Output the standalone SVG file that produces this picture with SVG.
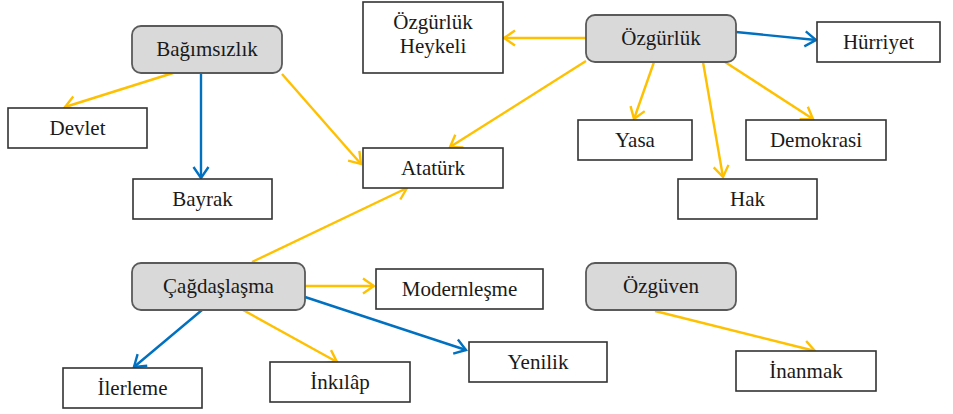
<svg xmlns="http://www.w3.org/2000/svg" width="953" height="414" viewBox="0 0 953 414">
<style>
.box{fill:#fff;stroke:#333;stroke-width:1.6}
.main{fill:#d9d9d9;stroke:#5a5a5a;stroke-width:1.8}
.t{font-family:'Liberation Serif','DejaVu Serif','Times New Roman',serif;font-size:21px;fill:#1a1a1a;text-anchor:middle}
.y{stroke:#FFC000;stroke-width:2.4;fill:none}
.b{stroke:#0070C0;stroke-width:2.4;fill:none}
</style>
<defs>
<marker id="ay" markerUnits="userSpaceOnUse" viewBox="-13 -9 15 18" refX="0" refY="0" markerWidth="15" markerHeight="18" orient="auto"><path d="M-11,-7.5 L0,0 L-11,7.5" fill="none" stroke="#FFC000" stroke-width="2.4"/></marker>
<marker id="ab" markerUnits="userSpaceOnUse" viewBox="-13 -9 15 18" refX="0" refY="0" markerWidth="15" markerHeight="18" orient="auto"><path d="M-11,-7.5 L0,0 L-11,7.5" fill="none" stroke="#0070C0" stroke-width="2.4"/></marker>
</defs>
<g id="connectors">
<line class="y" x1="173" y1="73" x2="65" y2="107" marker-end="url(#ay)"/>
<line class="y" x1="282" y1="74" x2="361" y2="164" marker-end="url(#ay)"/>
<line class="y" x1="586" y1="38" x2="504" y2="38" marker-end="url(#ay)"/>
<line class="y" x1="586" y1="61" x2="450" y2="147" marker-end="url(#ay)"/>
<line class="y" x1="654" y1="62" x2="634" y2="119" marker-end="url(#ay)"/>
<line class="y" x1="703" y1="62" x2="723" y2="177" marker-end="url(#ay)"/>
<line class="y" x1="725" y1="62" x2="813" y2="119" marker-end="url(#ay)"/>
<line class="y" x1="252" y1="262" x2="407" y2="188" marker-end="url(#ay)"/>
<line class="y" x1="305" y1="286" x2="374" y2="286" marker-end="url(#ay)"/>
<line class="y" x1="243" y1="310" x2="337" y2="362" marker-end="url(#ay)"/>
<line class="y" x1="655" y1="311" x2="815" y2="351" marker-end="url(#ay)"/>
<line class="b" x1="201" y1="73" x2="201" y2="178" marker-end="url(#ab)"/>
<line class="b" x1="736" y1="32" x2="816" y2="40" marker-end="url(#ab)"/>
<line class="b" x1="202" y1="310" x2="134" y2="367" marker-end="url(#ab)"/>
<line class="b" x1="305" y1="297" x2="466" y2="350" marker-end="url(#ab)"/>
</g>
<g id="bagimsizlik"><rect class="main" x="132" y="26" width="150" height="47" rx="9"/><text class="t" font-family="Liberation Serif, DejaVu Serif, serif" x="207" y="56">Bağımsızlık</text></g>
<g id="devlet"><rect class="box" x="8" y="108" width="139" height="40"/><text class="t" font-family="Liberation Serif, DejaVu Serif, serif" x="77.5" y="135">Devlet</text></g>
<g id="bayrak"><rect class="box" x="133" y="179" width="139" height="40"/><text class="t" font-family="Liberation Serif, DejaVu Serif, serif" x="202.5" y="206">Bayrak</text></g>
<g id="heykeli"><rect class="box" x="363" y="2" width="140" height="71"/><text class="t" font-family="Liberation Serif, DejaVu Serif, serif" x="433" y="29">Özgürlük</text><text class="t" font-family="Liberation Serif, DejaVu Serif, serif" x="433" y="53">Heykeli</text></g>
<g id="ataturk"><rect class="box" x="363" y="148" width="140" height="40"/><text class="t" font-family="Liberation Serif, DejaVu Serif, serif" x="433" y="175">Atatürk</text></g>
<g id="ozgurluk"><rect class="main" x="586" y="15" width="150" height="47" rx="9"/><text class="t" font-family="Liberation Serif, DejaVu Serif, serif" x="661" y="45">Özgürlük</text></g>
<g id="hurriyet"><rect class="box" x="817" y="22" width="123" height="40"/><text class="t" font-family="Liberation Serif, DejaVu Serif, serif" x="878.5" y="49">Hürriyet</text></g>
<g id="yasa"><rect class="box" x="578" y="120" width="114" height="40"/><text class="t" font-family="Liberation Serif, DejaVu Serif, serif" x="635" y="147">Yasa</text></g>
<g id="demokrasi"><rect class="box" x="746" y="120" width="140" height="40"/><text class="t" font-family="Liberation Serif, DejaVu Serif, serif" x="816" y="147">Demokrasi</text></g>
<g id="hak"><rect class="box" x="678" y="179" width="139" height="40"/><text class="t" font-family="Liberation Serif, DejaVu Serif, serif" x="747.5" y="206">Hak</text></g>
<g id="cagdaslasma"><rect class="main" x="132" y="263" width="173" height="47" rx="9"/><text class="t" font-family="Liberation Serif, DejaVu Serif, serif" x="218.5" y="293">Çağdaşlaşma</text></g>
<g id="modernlesme"><rect class="box" x="376" y="269" width="167" height="40"/><text class="t" font-family="Liberation Serif, DejaVu Serif, serif" x="459.5" y="296">Modernleşme</text></g>
<g id="ozguven"><rect class="main" x="586" y="263" width="150" height="47" rx="9"/><text class="t" font-family="Liberation Serif, DejaVu Serif, serif" x="661" y="293">Özgüven</text></g>
<g id="yenilik"><rect class="box" x="469" y="342" width="138" height="40"/><text class="t" font-family="Liberation Serif, DejaVu Serif, serif" x="538" y="369">Yenilik</text></g>
<g id="ilerleme"><rect class="box" x="63" y="368" width="139" height="40"/><text class="t" font-family="Liberation Serif, DejaVu Serif, serif" x="132.5" y="395">İlerleme</text></g>
<g id="inkilap"><rect class="box" x="270" y="362" width="140" height="40"/><text class="t" font-family="Liberation Serif, DejaVu Serif, serif" x="340" y="389">İnkılâp</text></g>
<g id="inanmak"><rect class="box" x="736" y="351" width="140" height="40"/><text class="t" font-family="Liberation Serif, DejaVu Serif, serif" x="806" y="378">İnanmak</text></g>
</svg>
